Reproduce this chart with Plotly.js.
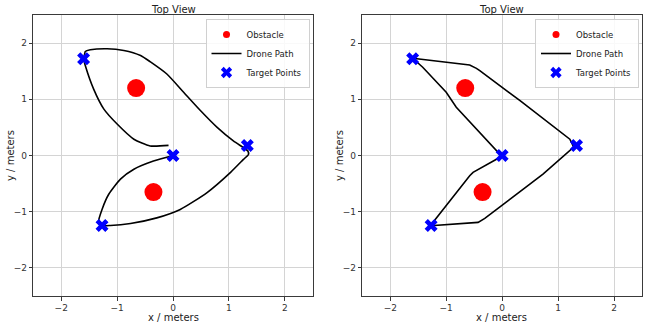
<!DOCTYPE html>
<html><head><meta charset="utf-8">
<script src="https://cdn.plot.ly/plotly-3.0.1.min.js"></script>
<style>html,body{margin:0;padding:0;background:#fff}#p{width:653px;height:324px}</style>
</head><body><div id="p"></div>
<script>
const obstacleX = [-0.66, -0.35];
const obstacleY = [1.2, -0.65];
const targetX = [0, -1.27, 1.33, -1.6];
const targetY = [0, -1.245, 0.18, 1.72];
const pathLeftX = [0, -0.35, -0.70, -0.94, -1.15, -1.27, -1.33, -1.27, -1.12, -0.76, -0.29, 0.13, 0.61, 1.03, 1.26, 1.35, 1.34, 1.26, 1.08, 0.79, 0.49, 0.19, -0.11, -0.41, -0.58, -0.88, -1.18, -1.48, -1.57, -1.58, -1.60, -1.57, -1.42, -1.24, -1.0, -0.70, -0.41, -0.08];
const pathLeftY = [0, -0.10, -0.245, -0.42, -0.69, -0.96, -1.17, -1.245, -1.245, -1.21, -1.11, -0.96, -0.66, -0.30, -0.07, 0.02, 0.08, 0.14, 0.26, 0.50, 0.80, 1.125, 1.45, 1.67, 1.78, 1.87, 1.90, 1.88, 1.85, 1.81, 1.72, 1.6, 1.18, 0.83, 0.56, 0.29, 0.17, 0.18];
const pathRightX = [0, -0.07, -0.52, -0.58, -1.27, -1.28, -0.43, -0.31, 0.73, 1.21, 1.28, 1.21, 0.32, -0.40, -0.46, -0.58, -1.60, -1.42, -1.0, -0.82, -0.04, 0];
const pathRightY = [0, -0.05, -0.30, -0.36, -1.23, -1.25, -1.19, -1.12, -0.33, 0.10, 0.15, 0.29, 0.975, 1.51, 1.55, 1.61, 1.73, 1.57, 1.125, 0.86, 0.02, 0];
const tickVals = [-2, -1, 0, 1, 2];
const tickText = ['\u22122', '\u22121', '0', '1', '2'];
const seriesNames = ['Obstacle', 'Drone Path', 'Target Points'];
const panelTitle = 'Top View';
const xTitle = 'x / meters';
const yTitle = 'y / meters';

const F = 'DejaVu Sans, sans-serif';
function traces(px, py, xa, ya, lg, shape) {
  const base = {xaxis: xa, yaxis: ya, legend: lg, type: 'scatter'};
  return [
    Object.assign({x: obstacleX, y: obstacleY, mode: 'markers', showlegend: false,
      marker: {color: '#ff0000', size: 18}}, base),
    Object.assign({x: px, y: py, mode: 'lines', showlegend: false,
      line: {color: '#000', width: 1.6, shape: shape, smoothing: 0.6}}, base),
    Object.assign({x: targetX, y: targetY, mode: 'markers', showlegend: false,
      marker: {color: '#0000ff', size: 11.5, symbol: 'x', line: {width: 0}}}, base),
    // legend-only entries (no data points)
    Object.assign({x: [null], y: [null], mode: 'markers', name: seriesNames[0],
      marker: {color: '#ff0000', size: 7}}, base),
    Object.assign({x: [null], y: [null], mode: 'lines', name: seriesNames[1],
      line: {color: '#000', width: 1.6}}, base),
    Object.assign({x: [null], y: [null], mode: 'markers', name: seriesNames[2],
      marker: {color: '#0000ff', size: 10, symbol: 'x', line: {width: 0}}}, base)
  ];
}
const data = [...traces(pathLeftX, pathLeftY, 'x', 'y', 'legend', 'spline'), ...traces(pathRightX, pathRightY, 'x2', 'y2', 'legend2', 'linear')];

function ax(domain, anchor) {
  return {domain: domain, anchor: anchor, range: [-2.5, 2.5], tickvals: tickVals, ticktext: tickText,
    showgrid: true, gridcolor: '#d4d4d4', gridwidth: 1, zeroline: false,
    showline: true, mirror: true, linecolor: '#3a3a3a', linewidth: 1,
    ticks: 'outside', ticklen: 3.5, tickcolor: '#3a3a3a', tickfont: {family: F, size: 9, color: '#333'},
    automargin: false};
}
const yd = [1 - 296 / 324, 1 - 15 / 324];
const legendBase = {yref: 'paper', xref: 'paper', yanchor: 'top', xanchor: 'right', y: 1 - 19 / 324,
  bgcolor: 'rgba(255,255,255,0.85)', bordercolor: '#d0d0d0', borderwidth: 1,
  font: {family: F, size: 8.5, color: '#222'}, tracegroupgap: 0, itemsizing: 'trace', itemwidth: 30};
function ann(text, x, y, angle) {
  return {text: text, xref: 'paper', yref: 'paper', x: x / 653, y: 1 - y / 324, xanchor: 'center', yanchor: 'middle',
    showarrow: false, textangle: angle || 0, font: {family: F, size: 10, color: '#222'}};
}
const layout = {
  width: 653, height: 324, margin: {l: 0, r: 0, t: 0, b: 0},
  paper_bgcolor: '#fff', plot_bgcolor: '#fff', showlegend: true,
  xaxis: ax([33.3 / 653, 312.7 / 653], 'y'),
  yaxis: ax(yd, 'x'),
  xaxis2: ax([362.3 / 653, 642 / 653], 'y2'),
  yaxis2: ax(yd, 'x2'),
  legend: Object.assign({}, legendBase, {x: 309.5 / 653}),
  legend2: Object.assign({}, legendBase, {x: 639 / 653}),
  annotations: [
    ann(panelTitle, 173, 9), ann(panelTitle, 502, 9),
    ann(xTitle, 173, 317), ann(xTitle, 502, 317),
    ann(yTitle, 11, 156, -90), ann(yTitle, 340, 156, -90)
  ]
};
Plotly.newPlot('p', data, layout, {staticPlot: true, displayModeBar: false});
</script></body></html>
